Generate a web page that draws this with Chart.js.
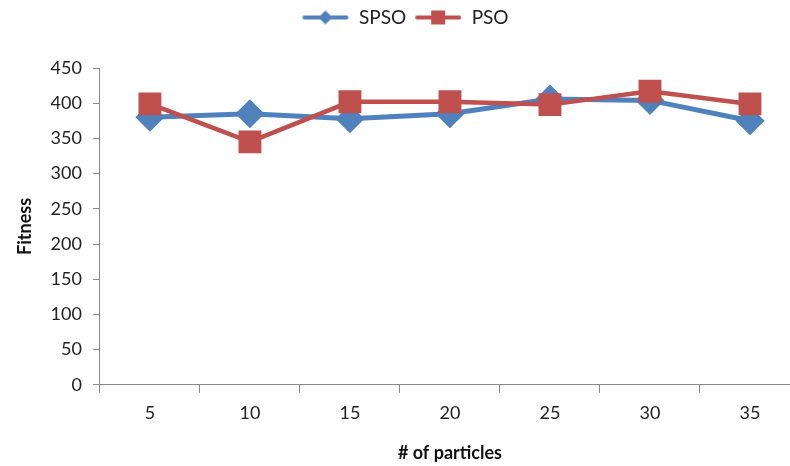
<!DOCTYPE html>
<html lang="en">
<head>
<meta charset="utf-8" />
<title>SPSO vs PSO</title>
<style>
  html, body { margin: 0; padding: 0; background: #fff; overflow: hidden; }
  #fitnessChart { display: block; }
</style>
</head>
<body>
<canvas id="fitnessChart" width="800" height="466"></canvas>

<script src="https://cdn.jsdelivr.net/npm/chart.js@4/dist/chart.umd.min.js"></script>
<script>
// data
const particles = ['5', '10', '15', '20', '25', '30', '35'];
const spsoFitness = [380, 385, 378, 385, 406, 404, 375];
const psoFitness = [399, 345, 402, 402, 398, 417, 399];

const blue = '#4F81BD';
const red = '#C0504D';

// legend sample: line with the marker in the middle
function legendIcon(color, shape) {
  const c = document.createElement('canvas');
  c.width = 48; c.height = 20;
  const g = c.getContext('2d');
  g.strokeStyle = color;
  g.lineWidth = 4;
  g.lineCap = 'round';
  g.beginPath(); g.moveTo(3, 10); g.lineTo(45, 10); g.stroke();
  g.fillStyle = color;
  if (shape === 'diamond') {
    g.beginPath();
    g.moveTo(24, 3); g.lineTo(31, 10); g.lineTo(24, 17); g.lineTo(17, 10);
    g.closePath(); g.fill();
  } else {
    g.fillRect(17, 3, 14, 14);
  }
  return c;
}

// extra room under the legend
const legendGap = {
  id: 'legendGap',
  beforeInit(chart) {
    const fit = chart.legend.fit;
    chart.legend.fit = function () {
      fit.call(this);
      this.height += 31;
    };
  }
};

const ctx = document.getElementById('fitnessChart').getContext('2d');

new Chart(ctx, {
  type: 'line',
  data: {
    labels: particles,
    datasets: [
      {
        label: 'SPSO',
        data: spsoFitness,
        borderColor: blue,
        backgroundColor: blue,
        borderWidth: 5,
        pointStyle: 'rectRot',
        pointRadius: 11,
        pointHoverRadius: 11,
        fill: false,
        order: 1
      },
      {
        label: 'PSO',
        data: psoFitness,
        borderColor: red,
        backgroundColor: red,
        borderWidth: 4.5,
        pointStyle: 'rect',
        pointRadius: 13,
        pointHoverRadius: 13,
        fill: false,
        order: 0
      }
    ]
  },
  options: {
    responsive: false,
    animation: false,
    layout: { autoPadding: false, padding: { top: 0, right: 0, left: 10, bottom: 2 } },
    plugins: {
      tooltip: { enabled: false },
      legend: {
        position: 'top',
        labels: {
          usePointStyle: true,
          pointStyleWidth: 48,
          padding: 8,
          color: '#222',
          font: { family: 'Lato', size: 19 },
          generateLabels: function (chart) {
            return chart.data.datasets.map(function (ds, i) {
              return {
                text: ds.label,
                datasetIndex: i,
                fontColor: '#222',
                lineWidth: 0,
                strokeStyle: 'transparent',
                fillStyle: ds.borderColor,
                pointStyle: legendIcon(ds.borderColor, i === 0 ? 'diamond' : 'square')
              };
            });
          }
        }
      }
    },
    scales: {
      x: {
        offset: true,
        grid: {
          drawOnChartArea: false,
          offset: true,
          tickLength: 8,
          color: '#888'
        },
        border: { color: '#888', width: 1 },
        ticks: { color: '#222', font: { family: 'Lato', size: 18 }, padding: 10 },
        title: {
          display: true,
          text: '# of particles',
          color: '#111',
          font: { family: 'Lato', size: 18, weight: 'bold' },
          padding: { top: 8, bottom: 0 }
        }
      },
      y: {
        min: 0,
        max: 450,
        grid: {
          drawOnChartArea: false,
          tickLength: 7,
          color: '#888'
        },
        border: { color: '#888', width: 1 },
        ticks: { stepSize: 50, color: '#222', font: { family: 'Lato', size: 18 }, padding: 11 },
        title: {
          display: true,
          text: 'Fitness',
          color: '#111',
          font: { family: 'Lato', size: 18, weight: 'bold' },
          padding: { bottom: 4 }
        }
      }
    }
  },
  plugins: [legendGap]
});
</script>
</body>
</html>
